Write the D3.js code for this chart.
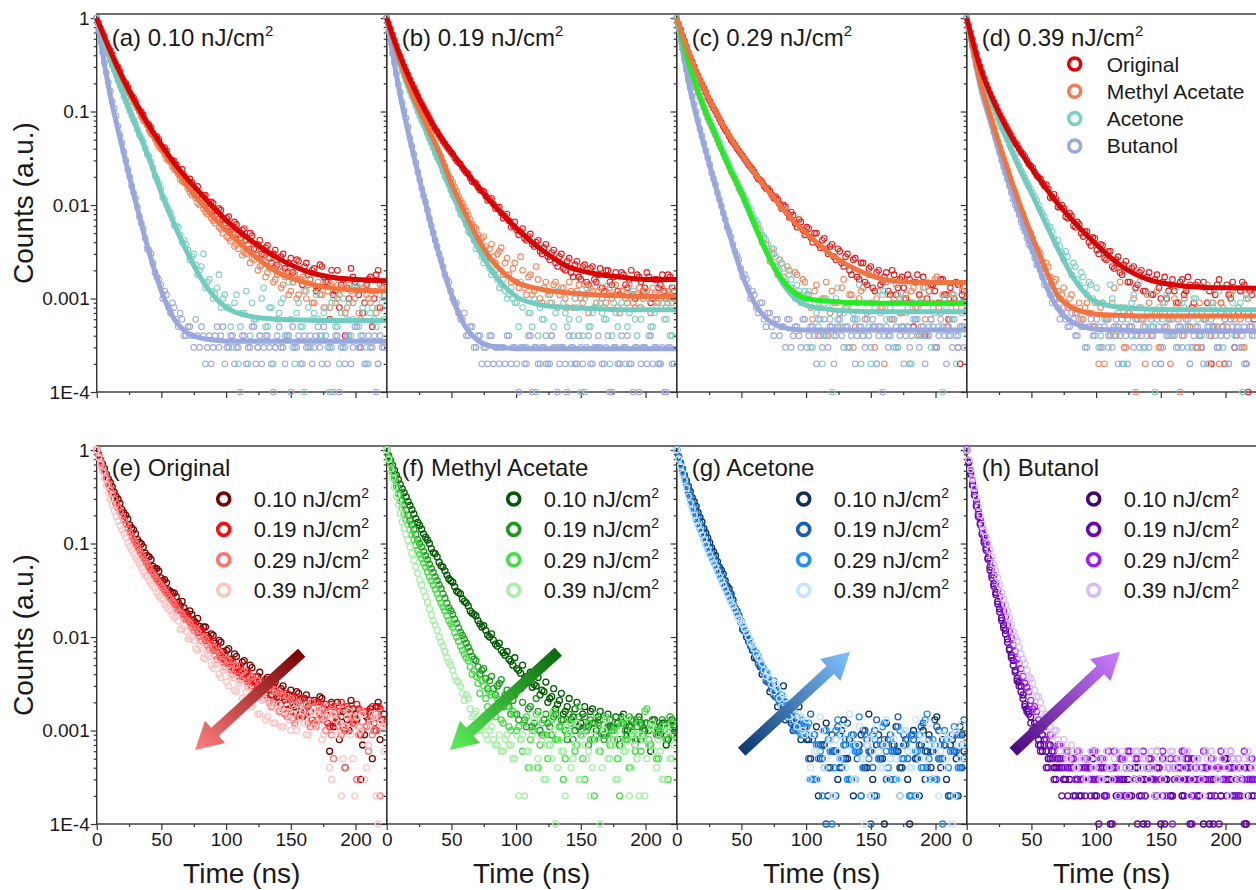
<!DOCTYPE html>
<html><head><meta charset="utf-8">
<script src="https://cdn.jsdelivr.net/npm/d3@7"></script>
<style>
body{margin:0;background:#fff;}
svg{display:block;font-family:"Liberation Sans",Arial,sans-serif;}
</style></head><body>
<svg id="chart" width="1256" height="890"></svg>
<script>
// ---------------- DATA ----------------
const fluences = ["0.10", "0.19", "0.29", "0.39"];
const solvents = ["Original", "Methyl Acetate", "Acetone", "Butanol"];
const topLetters = ["(a)", "(b)", "(c)", "(d)"];
const bottomLetters = ["(e)", "(f)", "(g)", "(h)"];
const yTickValues = [1, 0.1, 0.01, 0.001, 1e-4];
const yTickLabels = ["1", "0.1", "0.01", "0.001", "1E-4"];
const xTickValues = [0, 50, 100, 150, 200];
const xMinorValues = [25, 75, 125, 175];
const timeStepNs = 3;          // spacing of each data array below
const halfOffsetNs = 1.5;      // the "...h" arrays are sampled between those bins
const peakCounts = 10000;      // counts at the normalised maximum

// decay data (counts): X at t = 0,3,6,...  Xh at t = 1.5,4.5,7.5,...
const O1 = [10000,7800,6350,4900,4050,3200,2680,2120,1830,1470,1270,1030,920,740,670,540,505,400,380,305,295,235,240,185,190,150,158,120,128,98,104,80,88,64,75,55,62,45,56,38,47,33,42,29,37,24,33,22,30,19,27,18,25,14,24,16,21,13,22,15,6,11,20,14,4,10,17,13,3,9,16,5,18,8,15];
const O1h = [8900,7050,5500,4500,3550,2980,2300,2000,1580,1400,1100,990,790,720,570,540,430,410,320,300,270,215,205,170,175,142,130,128,104,108,86,92,70,72,58,66,48,54,42,50,34,38,30,35,27,30,23,28,21,24,19,26,16,22,18,20,12,23,17,15,20,12,8,16,13,21,15,11,7,14,17,10,20,13];
const M1 = [10000,7700,6100,4850,3850,3150,2550,2080,1680,1420,1170,1000,800,720,580,510,420,385,310,290,240,215,180,168,138,132,105,108,84,86,68,70,55,60,44,50,38,42,31,37,27,33,22,28,19,25,16,22,14,20,12,18,11,17,10,16,9,15,11,14,8,15,10,13,7,14,9,12,6,13,10,12,7,14,11];
const M1h = [8700,6900,5400,4300,3500,2800,2300,1850,1560,1270,1090,880,780,630,560,460,400,345,300,255,232,190,175,150,128,118,100,92,80,72,64,58,50,46,41,36,34,29,30,24,26,20,23,17,21,15,18,13,17,11,15,10,16,12,14,9,13,11,8,12,14,9,11,13,8,12,10,7,13,11,9,12,8,13];
const A1 = [10000,7300,5400,4100,3100,2500,1900,1450,1150,900,740,560,470,350,290,205,170,120,100,82,60,58,40,38,26,30,18,22,13,16,10,13,8,11,8,3,11,5,7,2,9,6,4,13,5,8,3,7,10,4,6,2,9,5,12,3,7,6,4,8,1,10,5,7,3,9,6,14,4,7,2,8,5,11,6];
const A1h = [8500,6300,4700,3600,2800,2150,1700,1300,1020,820,640,520,400,330,250,190,150,115,90,72,60,48,42,33,28,23,20,30,15,12,11,18,10,8,5,9,2,7,12,4,6,3,10,5,8,2,6,9,4,15,3,7,5,1,8,6,11,4,7,3,9,5,2,10,6,4,13,5,8,3,7,6,2,9];
const B1 = [10000,5600,3300,2050,1280,900,560,370,240,160,118,75,56,34,30,19,16,10,11,7,8,5,6,4,5,3,4,5,2,4,3,5,4,2,3,4,3,1,4,3,5,2,4,3,4,2,3,5,3,4,1,3,4,2,3,4,3,5,2,4,3,1,4,3,2,4,3,5,3,2,4,3,1,4,3];
const B1h = [7400,4300,2600,1650,1080,700,460,300,200,135,95,64,44,33,24,17,14,12,8,9,6,7,4,5,4,6,3,4,3,2,4,3,5,3,4,2,3,4,2,3,5,3,2,4,3,1,4,3,2,4,5,3,2,4,3,2,4,3,5,2,3,4,1,3,4,2,5,3,4,2,3,4,2,3];
const O2 = [10000,7600,5800,4350,3450,2700,2200,1800,1450,1200,1010,850,700,610,520,450,395,350,300,275,235,215,178,170,145,140,112,118,92,95,72,80,58,66,48,56,42,49,36,42,30,38,26,33,22,30,20,27,17,25,16,23,14,22,15,21,12,20,14,19,11,18,13,20,10,17,12,19,9,16,13,18,10,17,12];
const O2h = [8700,6600,5000,3900,3050,2450,1980,1620,1320,1100,930,770,650,560,480,420,370,320,285,250,222,195,175,155,142,125,115,102,94,82,76,68,60,54,52,44,46,38,40,32,35,28,31,24,28,21,25,19,23,17,22,15,21,16,18,13,20,15,17,12,19,14,16,11,18,15,13,17,10,16,14,12,18,13];
const M2 = [10000,7300,5300,3900,2900,2300,1750,1420,1100,920,740,600,490,400,330,260,205,175,140,112,95,78,62,56,40,46,28,38,24,32,18,27,15,24,13,20,11,18,12,16,9,15,11,14,8,13,10,15,8,12,10,14,7,12,9,13,8,11,10,14,7,12,9,11,8,13,10,12,7,11,9,13,8,11,10];
const M2h = [8500,6200,4500,3350,2600,2000,1600,1250,1000,820,670,540,440,360,290,230,190,155,125,104,86,70,58,48,44,36,34,28,30,35,24,18,21,15,28,13,17,11,22,10,13,12,9,15,11,13,8,12,10,14,9,11,13,8,12,10,9,13,11,8,12,10,14,9,11,8,12,10,13,9,11,10,12,9];
const A2 = [10000,7100,5200,3750,2750,2150,1650,1300,1000,800,660,510,410,320,270,200,165,128,108,80,72,52,48,34,33,24,25,18,20,13,16,10,13,9,5,8,3,7,10,4,6,2,9,5,12,3,7,6,4,8,1,10,5,7,3,9,6,14,4,7,2,8,5,11,6,8,3,11,5,7,2,9,6,4,13];
const A2h = [8400,6100,4400,3200,2450,1900,1460,1150,900,720,580,460,360,295,230,185,145,118,92,78,62,50,42,36,28,26,21,19,16,14,12,11,10,9,15,3,7,5,1,8,6,11,4,7,3,9,5,2,10,6,4,13,5,8,3,7,6,2,9,5,9,2,7,12,4,6,3,10,5,8,2,6,9,4];
const B2 = [10000,5500,3300,1950,1250,850,520,350,225,150,108,72,50,36,26,18,15,10,9,6,7,4,5,3,4,3,2,4,3,2,3,4,2,3,1,3,2,4,3,2,3,4,2,3,1,3,2,4,3,2,3,1,4,2,3,3,2,4,1,3,2,3,4,2,3,1,3,2,4,3,2,3,1,3,2];
const B2h = [7300,4200,2500,1600,1020,680,430,285,185,125,88,60,42,30,22,16,12,9,7,6,4,5,3,4,2,3,4,2,3,3,2,4,3,2,3,2,4,1,3,2,3,2,4,3,2,3,1,3,2,4,2,3,2,3,4,2,3,1,3,2,4,3,2,1,3,2,3,4,2,3,2,1,3,2];
const O3 = [10000,7500,5700,4300,3400,2650,2150,1780,1420,1180,1000,830,690,600,500,440,380,335,290,255,225,190,175,150,140,118,115,92,96,74,78,58,66,48,56,40,50,35,44,30,38,26,32,22,30,18,27,16,24,14,22,12,20,15,19,11,18,13,17,10,16,5,18,9,4,12,14,3,16,11,6,9,15,2,12];
const O3h = [8600,6500,4950,3800,3000,2400,1950,1600,1300,1080,910,760,640,545,470,405,355,310,270,240,205,185,160,150,128,122,102,100,82,84,64,70,54,58,45,50,38,42,34,36,28,34,24,28,20,26,17,24,15,21,13,19,14,17,12,20,11,16,13,18,9,15,11,17,10,14,12,9,16,11,13,10,14,11];
const M3 = [10000,6900,4900,3400,2400,1800,1400,1100,850,690,560,440,360,290,230,190,150,128,100,80,66,56,40,38,25,30,18,24,14,20,12,18,10,15,11,6,14,8,10,4,12,9,7,16,8,11,5,10,13,7,9,3,12,8,15,6,10,9,7,11,2,13,8,10,6,12,9,17,7,10,5,11,8,14,9];
const M3h = [8200,5800,4100,2850,2050,1600,1250,960,770,620,500,400,325,260,210,170,138,112,90,72,60,48,44,32,34,22,26,17,22,13,19,11,16,10,8,12,4,10,15,7,9,5,13,8,11,3,9,12,6,18,5,10,8,2,11,9,14,7,10,5,12,8,4,13,9,6,16,8,11,5,10,9,3,12];
const A3 = [10000,7000,5000,3500,2500,1850,1420,1120,880,710,580,460,370,300,240,200,160,135,110,90,72,62,48,42,32,34,22,24,15,18,11,14,9,12,12,3,7,6,4,8,1,10,5,7,3,9,6,14,4,7,2,8,5,11,6,8,3,11,5,7,2,9,6,4,13,5,8,3,7,10,4,6,2,9,5];
const A3h = [8300,5900,4200,2950,2150,1620,1260,990,790,640,510,410,330,270,218,180,146,122,98,80,68,54,45,38,30,28,20,21,14,16,10,12,9,11,3,9,5,2,10,6,4,13,5,8,3,7,6,2,9,5,9,2,7,12,4,6,3,10,5,8,2,6,9,4,15,3,7,5,1,8,6,11,4,7];
const B3 = [10000,6000,3600,2200,1450,1000,650,460,320,220,165,115,82,58,46,32,26,17,16,10,11,7,9,5,7,4,6,5,3,6,4,5,3,6,4,5,2,4,6,3,5,4,6,3,5,4,2,5,4,6,3,5,4,1,5,4,6,3,5,4,3,6,4,5,2,4,5,3,6,4,5,3,4,5,3];
const B3h = [7800,4700,2800,1800,1200,800,550,380,270,190,135,98,70,52,38,29,21,18,13,12,8,9,6,7,5,6,4,5,6,3,5,4,6,3,5,4,6,3,4,5,2,6,4,5,3,6,4,5,3,4,6,2,5,4,3,6,5,4,2,5,4,6,3,5,4,6,3,4,5,2,4,6,3,5];
const O4 = [10000,7000,5000,3500,2600,1950,1550,1280,1020,850,710,600,500,440,370,330,275,250,208,190,160,148,122,115,95,92,72,76,58,62,46,52,37,44,30,37,26,32,21,28,18,25,15,22,14,20,12,19,11,18,10,17,12,16,9,15,11,17,8,14,4,15,9,2,11,16,5,14,10,3,7,15,2,12,6];
const O4h = [8300,5900,4200,3000,2250,1750,1400,1150,930,780,650,550,460,400,350,300,262,225,198,172,165,120,130,95,100,75,82,60,66,50,52,40,45,33,38,27,32,22,26,19,23,15,21,13,19,12,17,11,16,13,15,10,14,12,9,16,12,14,9,15,3,13,12,5,14,9,2,11,15,4,12,14,1,11];
const M4 = [10000,6300,4000,2600,1700,1250,920,660,480,360,270,200,150,118,88,70,54,44,34,30,21,22,14,16,10,13,8,11,7,9,6,9,7,5,2,9,6,4,13,5,8,3,7,10,4,6,2,9,5,12,3,7,6,4,8,1,10,5,7,3,9,6,14,4,7,2,8,5,11,6,8,3,11,5,7];
const M4h = [7900,5000,3200,2100,1450,1080,780,560,410,310,235,172,135,100,80,60,50,38,33,25,24,17,15,12,11,9,10,8,7,6,8,7,5,9,8,2,6,9,4,15,3,7,5,1,8,6,11,4,7,3,9,5,2,10,6,4,13,5,8,3,7,6,2,9,5,9,2,7,12,4,6,3,10,5];
const A4 = [10000,6700,4700,3200,2300,1750,1380,1100,860,680,560,440,360,290,235,195,160,135,112,88,75,60,52,38,36,26,28,18,22,14,17,11,14,9,3,9,6,14,4,7,2,8,5,11,6,8,3,11,5,7,2,9,6,4,13,5,8,3,7,10,4,6,2,9,5,12,3,7,6,4,8,1,10,5,7];
const A4h = [8000,5600,3900,2700,2000,1550,1230,970,760,620,500,400,325,260,215,175,148,122,100,82,66,58,44,42,31,32,22,24,16,19,13,15,10,13,4,6,3,10,5,8,2,6,9,4,15,3,7,5,1,8,6,11,4,7,3,9,5,2,10,6,4,13,5,8,3,7,6,2,9,5,9,2,7,12];
const B4 = [10000,6200,3900,2500,1600,1180,860,600,430,300,220,160,115,90,66,52,38,32,23,20,14,13,9,10,6,8,5,7,4,6,5,3,6,4,5,3,6,4,5,2,6,4,5,3,6,4,5,3,4,6,2,5,4,6,3,5,4,6,3,5,4,2,5,6,4,3,5,4,6,3,5,4,2,5,4];
const B4h = [7800,4900,3100,2000,1350,1000,720,510,360,255,190,135,100,78,58,44,36,27,23,17,15,11,10,8,7,6,5,6,4,5,3,5,4,6,3,5,4,3,6,4,5,2,4,6,3,5,4,6,2,5,3,4,6,4,5,3,6,2,4,5,3,6,4,5,3,4,6,2,5,4,3,5,6,4];

// fitted decay curves (counts) at these times (ns)
const fitTimes = [0,10,20,30,40,50,60,70,80,90,100,120,140,160,180,200,224];
const fitO1 = [10000,4600,2300,1250,720,440,280,190,135,95,69,41,27,20,17,16,15.5];
const fitM1 = [10000,4500,2200,1180,660,400,250,160,108,75,54,30,19,15,13,12.3,12];
const fitA1 = [10000,3700,1600,720,330,135,62,31,17,10.8,8,6.4,6,5.9,5.8,5.8,5.8];
const fitB1 = [10000,1600,400,110,33,12,6,4.3,3.8,3.6,3.5,3.5,3.5,3.5,3.5,3.5,3.5];
const fitO2 = [10000,4000,1900,1000,580,370,240,160,110,78,57,33,22,18.5,17,16,16];
const fitM2 = [10000,3500,1500,750,380,170,85,45,27,19,15,12.5,11.5,11,10.7,10.5,10.5];
const fitA2 = [10000,3300,1400,650,300,140,68,36,21,14,10.5,8.5,8,7.8,7.6,7.6,7.6];
const fitB2 = [10000,1600,380,105,31,11,5.2,3.6,3.1,3.0,2.9,2.9,2.9,2.9,2.9,2.9,2.9];
const fitO3 = [10000,4000,1900,1000,570,350,220,145,98,68,50,29,20,16,15,14.8,14.8];
const fitM3 = [10000,3000,1200,550,260,135,62,30,17,11.8,10,9.3,9,8.9,8.9,8.9,8.9];
const fitA3 = [10000,3100,1250,570,270,130,62,30,16,10.5,8.5,7.6,7.3,7.2,7.2,7.2,7.2];
const fitB3 = [10000,1800,500,160,53,19,9,6,5,4.7,4.6,4.6,4.6,4.6,4.6,4.6,4.6];
const fitO4 = [10000,3100,1350,700,400,250,160,105,73,52,38,22,16,14,13.2,13,12.9];
const fitM4 = [10000,2200,750,280,110,48,22,11,8.2,7.2,6.8,6.6,6.5,6.5,6.5,6.5,6.5];
const fitA4 = [10000,2800,1200,550,260,135,68,35,19,12,9.2,8,7.7,7.6,7.6,7.6,7.6];
const fitB4 = [10000,2000,650,220,85,35,15,8,5.8,5,4.7,4.6,4.5,4.5,4.5,4.5,4.5];

// trend arrows in the bottom panels: [t_start, value_start, t_end, value_end]
const arrowEnds = [[158.4,0.00679,76.0,0.000618],[132.6,0.00697,48.9,0.000618],[50.2,0.000593,134.0,0.00697],[36.0,0.000593,118.5,0.00697]];

// ---------------- STYLE ----------------
const dataBySolvent = {
  "Original":[[O1,O1h],[O2,O2h],[O3,O3h],[O4,O4h]],
  "Methyl Acetate":[[M1,M1h],[M2,M2h],[M3,M3h],[M4,M4h]],
  "Acetone":[[A1,A1h],[A2,A2h],[A3,A3h],[A4,A4h]],
  "Butanol":[[B1,B1h],[B2,B2h],[B3,B3h],[B4,B4h]]};
const fitBySolvent = {"Original":[fitO1,fitO2,fitO3,fitO4],"Methyl Acetate":[fitM1,fitM2,fitM3,fitM4],"Acetone":[fitA1,fitA2,fitA3,fitA4],"Butanol":[fitB1,fitB2,fitB3,fitB4]};
const topPointColor = {"Original":"#e41a1a","Methyl Acetate":"#f2875f","Acetone":"#7fd0c6","Butanol":"#9eaadf"};
const topLineColor = {"Original":"#d90000","Methyl Acetate":"#f1733f","Acetone":"#72cbbf","Butanol":"#98a7dd"};
const topLegendColor = {"Original":"#e00000","Methyl Acetate":"#f47a52","Acetone":"#7ad0c5","Butanol":"#9aa8de"};
const lineOverride = {2:{"Original":"#f1733f","Methyl Acetate":"#22ec22"}};
const bottomColors = {
  "Original":["#7a0000","#ff0d0d","#ff7373","#ffc4c4"],
  "Methyl Acetate":["#005a00","#1c9c1c","#44de44","#a4f0a4"],
  "Acetone":["#0d2f60","#1760b6","#1f8fff","#c6e3ff"],
  "Butanol":["#470078","#6a05b4","#9e1cf6","#dcbcf8"]};
const arrowColors = [["#7a0000","#ff7f7f"],["#0a6a0a","#5cf05c"],["#0c3a72","#80c2ff"],["#4a0880","#cc80ff"]];

const W = 290, lefts = [96.7, 386.7, 676.7, 966.7];
const rows = [{top:14,bottom:392},{top:446,bottom:824}];
const xMax = 224.1;
const axisColor = "#333", textColor = "#1a1a1a";

const svg = d3.select("#chart");
const defs = svg.append("defs");

function makeScales(col, row){
  const x = d3.scaleLinear().domain([0, xMax]).range([lefts[col], lefts[col] + W]);
  const y = d3.scaleLog().domain([1e-4, 1.104]).range([rows[row].bottom, rows[row].top]);
  return {x, y};
}
function toPoints(pair){
  const [main, half] = pair;
  const a = main.map((c,i)=>({t:i*timeStepNs, v:c/peakCounts}));
  const b = half.map((c,i)=>({t:i*timeStepNs+halfOffsetNs, v:c/peakCounts}));
  return a.concat(b).sort((p,q)=>p.t-q.t);
}

function drawAxes(col, row, x, y){
  const g = svg.append("g");
  const r = rows[row];
  const minors = [];
  for (let e=-4; e<0; e++) for (let m=2; m<=9; m++) minors.push(m*Math.pow(10,e));
  g.append("g").attr("transform",`translate(${lefts[col]},0)`)
    .call(d3.axisLeft(y).tickValues(minors).tickSize(3).tickFormat(""))
    .call(s=>s.select(".domain").remove());
  g.append("g").attr("transform",`translate(${lefts[col]},0)`)
    .call(d3.axisLeft(y).tickValues(yTickValues).tickSize(6).tickPadding(1)
      .tickFormat((d,i)=> col===0 ? yTickLabels[i] : ""))
    .call(s=>s.select(".domain").remove());
  g.append("g").attr("transform",`translate(0,${r.bottom})`)
    .call(d3.axisBottom(x).tickValues(xMinorValues).tickSize(3).tickFormat(""))
    .call(s=>s.select(".domain").remove());
  g.append("g").attr("transform",`translate(0,${r.bottom})`)
    .call(d3.axisBottom(x).tickValues(xTickValues).tickSize(6).tickPadding(3)
      .tickFormat(d=> row===1 ? String(d) : ""))
    .call(s=>s.select(".domain").remove());
  g.selectAll(".tick line").attr("stroke",axisColor).attr("stroke-width",1.2);
  g.selectAll(".tick text").attr("fill",textColor).attr("font-size",19)
    .attr("font-family",'"Liberation Sans",Arial,sans-serif');
  svg.append("rect").attr("x",lefts[col]).attr("y",r.top).attr("width",W).attr("height",r.bottom-r.top)
    .attr("fill","none").attr("stroke",axisColor).attr("stroke-width",1.4);
}

function title(col, row, main, withUnit){
  const t = svg.append("text").attr("x",lefts[col]+15).attr("y", row===0 ? 46 : 476)
    .attr("font-size",24).attr("fill",textColor);
  t.append("tspan").text(main);
  if (withUnit) t.append("tspan").attr("dy",-10).attr("font-size",15).text("2");
}

function unitLabel(sel, x, yy, fl, size){
  const t = sel.append("text").attr("x",x).attr("y",yy).attr("font-size",size).attr("fill",textColor)
    .attr("dy","0.36em");
  t.append("tspan").text(`${fl} nJ/cm`);
  t.append("tspan").attr("dy",-9).attr("font-size",14).text("2");
}

// ---------------- TOP ROW ----------------
fluences.forEach((fl, i)=>{
  const {x,y} = makeScales(i,0);
  drawAxes(i,0,x,y);
  const gp = svg.append("g");
  solvents.forEach(s=>{
    gp.append("g").selectAll("circle").data(toPoints(dataBySolvent[s][i])).join("circle")
      .attr("cx",d=>x(d.t)).attr("cy",d=>y(d.v)).attr("r",2.8)
      .attr("fill","none").attr("stroke",topPointColor[s]).attr("stroke-width",1.1);
  });
  const line = d3.line().x(d=>x(d.t)).y(d=>y(d.v)).curve(d3.curveMonotoneX);
  solvents.slice().reverse().forEach(s=>{
    const pts = fitBySolvent[s][i].map((c,k)=>({t:fitTimes[k], v:c/peakCounts}));
    const col = (lineOverride[i] && lineOverride[i][s]) || topLineColor[s];
    gp.append("path").attr("d",line(pts)).attr("fill","none").attr("stroke",col)
      .attr("stroke-width",5).attr("stroke-linejoin","round");
  });
  title(i,0,`${topLetters[i]} ${fl} nJ/cm`, true);
});
const lg = svg.append("g");
solvents.forEach((s,k)=>{
  const yy = 64 + k*27.3;
  lg.append("circle").attr("cx",lefts[3]+108).attr("cy",yy).attr("r",6)
    .attr("fill","none").attr("stroke",topLegendColor[s]).attr("stroke-width",3.5);
  lg.append("text").attr("x",lefts[3]+140).attr("y",yy).attr("dy","0.36em")
    .attr("font-size",21).attr("fill",textColor).text(s);
});

// ---------------- BOTTOM ROW ----------------
solvents.forEach((s, i)=>{
  const {x,y} = makeScales(i,1);
  drawAxes(i,1,x,y);
  const gp = svg.append("g");
  fluences.forEach((fl,k)=>{
    gp.append("g").selectAll("circle").data(toPoints(dataBySolvent[s][k])).join("circle")
      .attr("cx",d=>x(d.t)).attr("cy",d=>y(d.v)).attr("r",3)
      .attr("fill","none").attr("stroke",bottomColors[s][k]).attr("stroke-width",1.3);
  });
  title(i,1,`${bottomLetters[i]} ${s}`, false);
  fluences.forEach((fl,k)=>{
    const yy = 499 + k*30.4;
    svg.append("circle").attr("cx",lefts[i]+127).attr("cy",yy).attr("r",6)
      .attr("fill","none").attr("stroke",bottomColors[s][k]).attr("stroke-width",3.6);
    unitLabel(svg, lefts[i]+157, yy, fl, 22);
  });
  const a = arrowEnds[i];
  const x0 = x(a[0]), y0 = y(a[1]), x1 = x(a[2]), y1 = y(a[3]);
  const gid = "arrowGrad"+i;
  const grad = defs.append("linearGradient").attr("id",gid).attr("gradientUnits","userSpaceOnUse")
    .attr("x1",x0).attr("y1",y0).attr("x2",x1).attr("y2",y1);
  grad.append("stop").attr("offset","0%").attr("stop-color",arrowColors[i][0]);
  grad.append("stop").attr("offset","100%").attr("stop-color",arrowColors[i][1]);
  const L = Math.hypot(x1-x0, y1-y0), ux=(x1-x0)/L, uy=(y1-y0)/L, px=-uy, py=ux;
  const hw=5.5, hh=15, hl=27;
  const bx = x1-ux*hl, by = y1-uy*hl;
  const poly = [[x0+px*hw,y0+py*hw],[bx+px*hw,by+py*hw],[bx+px*hh,by+py*hh],[x1,y1],
                [bx-px*hh,by-py*hh],[bx-px*hw,by-py*hw],[x0-px*hw,y0-py*hw]];
  svg.append("polygon").attr("points",poly.map(p=>p.join(",")).join(" "))
    .attr("fill",`url(#${gid})`);
  svg.append("text").attr("x",lefts[i]+W/2).attr("y",883).attr("text-anchor","middle")
    .attr("font-size",28).attr("fill",textColor).text("Time (ns)");
});

rows.forEach(r=>{
  svg.append("text").attr("transform",`translate(33,${(r.top+r.bottom)/2}) rotate(-90)`)
    .attr("text-anchor","middle").attr("font-size",28).attr("fill",textColor).text("Counts (a.u.)");
});
</script>
</body></html>
